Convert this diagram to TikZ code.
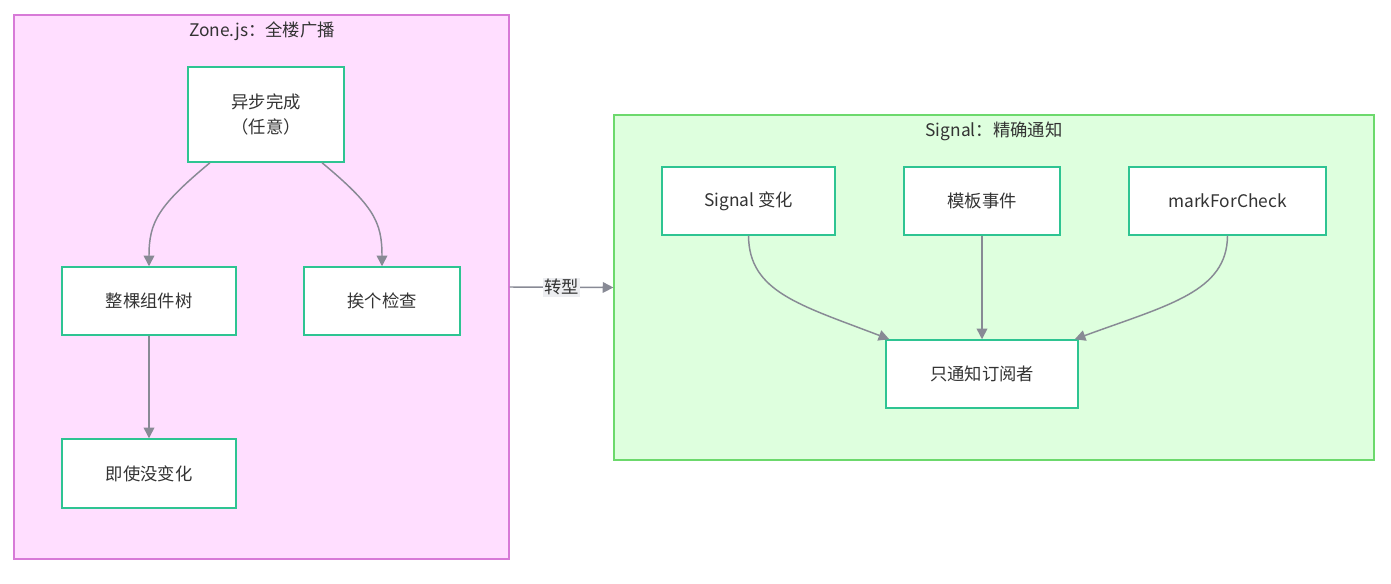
\documentclass[tikz,border=0pt]{standalone}
\usepackage{fontspec}
\setmainfont{Noto Sans CJK SC}
\usetikzlibrary{arrows.meta,calc}
\definecolor{pinkfill}{HTML}{FFDEFF}
\definecolor{pinkline}{HTML}{D77AD7}
\definecolor{greenfill}{HTML}{DEFFDE}
\definecolor{greenline}{HTML}{6CD96C}
\definecolor{nodeline}{HTML}{2EC492}
\definecolor{edgecol}{HTML}{888A95}
\definecolor{txt}{HTML}{333333}
\definecolor{lblbg}{HTML}{EDEEF1}
\tikzset{
  cluster/.style={draw, line width=0.9pt, inner sep=0pt},
  box/.style={draw=nodeline, fill=white, line width=1.1pt, text=txt, align=center, inner sep=0pt, font=\fontsize{13}{19}\selectfont},
  title/.style={text=txt, font=\fontsize{13}{16}\selectfont, inner sep=0pt},
  conn/.style={draw=edgecol, line width=1.1pt, -{Triangle[length=8pt,width=8pt]}},
  lbl/.style={fill=lblbg, text=txt, font=\fontsize{13}{16}\selectfont, inner sep=1pt}
}
\begin{document}
\begin{tikzpicture}[x=0.75pt,y=-0.75pt]
\useasboundingbox (0,0) rectangle (1391,584);
% clusters
\node[cluster, draw=pinkline, fill=pinkfill, minimum width=371.25pt, minimum height=408pt] (zone) at (261.5,287) {};
\node[cluster, draw=greenline, fill=greenfill, minimum width=570pt, minimum height=258.75pt] (sig) at (994,287.5) {};
\node[title] (zt) at (262,31) {Zone.js：全楼广播};
\node[title] (st) at (994,131) {Signal：精确通知};
% nodes
\node[box, minimum width=117pt, minimum height=71.25pt] (a) at (266,114.5) {异步完成\\（任意）};
\node[box, minimum width=130.5pt, minimum height=51pt] (b) at (149,301) {整棵组件树};
\node[box, minimum width=117pt, minimum height=51pt] (c) at (382,301) {挨个检查};
\node[box, minimum width=130.5pt, minimum height=51.75pt] (d) at (149,473.5) {即使没变化};
\node[box, minimum width=129.75pt, minimum height=51pt] (e) at (748.5,201) {Signal 变化};
\node[box, minimum width=117pt, minimum height=51pt] (f) at (982,201) {模板事件};
\node[box, minimum width=147.75pt, minimum height=51pt] (g) at (1227.5,201) {markForCheck};
\node[box, minimum width=144pt, minimum height=51pt] (h) at (982,374) {只通知订阅者};
% edges
\draw[conn] ([xshift=-42pt]a.south) .. controls (158,206) and (149,222) .. (b.north);
\draw[conn] ([xshift=42pt]a.south) .. controls (374,206) and (382,222) .. (c.north);
\draw[conn] (b.south) -- (d.north);
\draw[conn] (e.south) .. controls (749,292) and (800,305) .. ([xshift=3pt]h.north west);
\draw[conn] (f.south) -- (h.north);
\draw[conn] (g.south) .. controls (1227,292) and (1168,305) .. ([xshift=-3pt]h.north east);
\draw[conn] (zone.east) -- node[lbl] (lab) {转型} (sig.west);
\end{tikzpicture}
\end{document}
